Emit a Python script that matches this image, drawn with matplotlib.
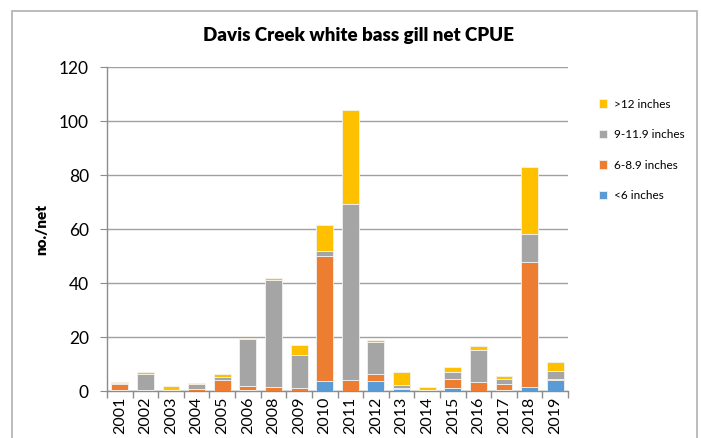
import numpy as np
import matplotlib.pyplot as plt
from matplotlib.patches import Rectangle

# Davis Creek white bass gill net CPUE, stacked by length group
years = ['2001', '2002', '2003', '2004', '2005', '2006', '2008', '2009', '2010',
         '2011', '2012', '2013', '2014', '2015', '2016', '2017', '2018', '2019']
under6 = [0.5, 0.0, 0.0, 0.0, 0.0, 0.4, 0.0, 0.0, 3.8,
          0.0, 3.7, 0.9, 0.0, 1.2, 0.0, 0.5, 1.3, 4.1]
six_to_9 = [2.2, 0.3, 0.2, 0.9, 4.0, 1.6, 1.5, 1.0, 46.2,
            4.2, 2.7, 0.3, 0.5, 3.2, 3.5, 2.1, 46.6, 0.2]
nine_to_12 = [0.1, 5.9, 0.0, 1.7, 1.3, 17.3, 39.7, 12.2, 2.0,
              65.1, 11.6, 1.1, 0.0, 2.6, 11.7, 1.8, 10.2, 3.0]
over12 = [0.6, 0.9, 1.5, 0.4, 1.0, 0.5, 0.5, 4.0, 9.4,
          34.6, 0.8, 4.8, 0.9, 1.8, 1.5, 1.0, 24.8, 3.3]

series = [('<6 inches', under6, '#5b9bd5'),
          ('6-8.9 inches', six_to_9, '#ed7d31'),
          ('9-11.9 inches', nine_to_12, '#a5a5a5'),
          ('>12 inches', over12, '#ffc000')]

plt.rcParams['font.family'] = ['Lato', 'DejaVu Sans']

fig = plt.figure(figsize=(7.01, 4.38), dpi=100)
ax = fig.add_axes([107 / 701, 1 - 391 / 438, (568 - 107) / 701, (391 - 67) / 438])

# outer chart border
fig.patches.append(Rectangle((12 / 701, -0.05), (697 - 12) / 701, 1.05 - 11 / 438,
                             transform=fig.transFigure, fill=False,
                             edgecolor='#b0b0b0', linewidth=1.2))

x = np.arange(len(years))
bottom = np.zeros(len(years))
handles = []
for name, vals, color in series:
    vals = np.array(vals)
    b = ax.bar(x, vals, 0.66, bottom=bottom, color=color,
               edgecolor='#f2f2f2', linewidth=0.6, label=name, zorder=3)
    handles.append(b)
    bottom += vals

ax.set_xlim(-0.5, len(years) - 0.5)
ax.set_ylim(0, 120)
ax.set_yticks(np.arange(0, 121, 20))
ax.yaxis.grid(True, color='#a0a0a0', linewidth=1)
ax.set_axisbelow(True)

ax.set_xticks(x)
ax.set_xticklabels(years, rotation=90, fontsize=11.5)
ax.tick_params(axis='x', length=0, pad=4)
ax.set_xticks(np.arange(-0.5, len(years), 1), minor=True)
ax.tick_params(axis='x', which='minor', length=5, color='#8c8c8c', width=1)
ax.tick_params(axis='y', labelsize=12.5, length=5, color='#8c8c8c', pad=8)

for side in ['top', 'right']:
    ax.spines[side].set_visible(False)
for side in ['left', 'bottom']:
    ax.spines[side].set_color('#8c8c8c')
    ax.spines[side].set_linewidth(1)

ax.set_ylabel('no./net', fontsize=11, fontweight='heavy', labelpad=8)
fig.text(358 / 701, 1 - 36 / 438, 'Davis Creek white bass gill net CPUE',
         ha='center', va='center', fontsize=13.5, fontweight='heavy')

ax.legend(handles[::-1], [s[0] for s in series][::-1],
          loc='upper left', bbox_to_anchor=(588 / 701, 1 - 88 / 438),
          bbox_transform=fig.transFigure, frameon=False, fontsize=8.5,
          handlelength=0.7, handleheight=0.7, labelspacing=1.65,
          handletextpad=0.6)

fig.savefig('out.png', dpi=100)
